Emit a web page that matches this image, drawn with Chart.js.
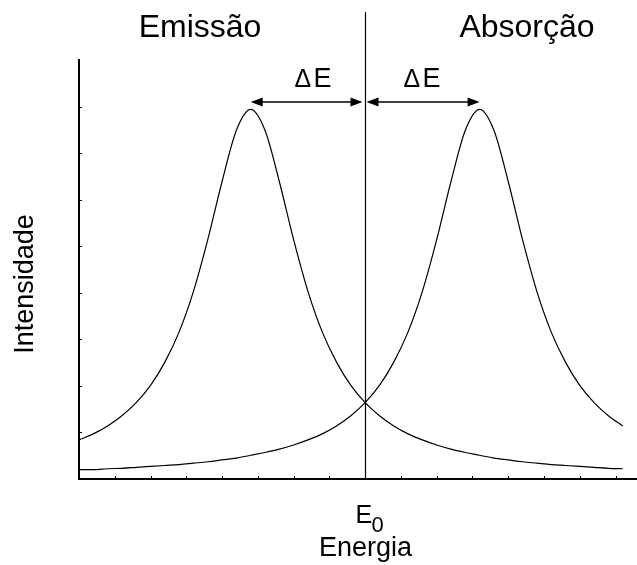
<!DOCTYPE html>
<html>
<head>
<meta charset="utf-8">
<script src="https://cdn.jsdelivr.net/npm/chart.js@4/dist/chart.umd.min.js"></script>
<style>
  html, body { margin: 0; padding: 0; background: #fff; }
  #wrap { width: 637px; height: 565px; }
</style>
</head>
<body>
<div id="wrap"><canvas id="spectrum" width="637" height="565"></canvas></div>
<script>
// energy axis (arbitrary units, E0 sits at 8)
const energy = [0, 0.4, 0.8, 1.2, 1.6, 2.0, 2.4, 2.8, 3.2, 3.6, 4.0, 4.4, 4.8, 5.2, 5.6, 6.0, 6.4, 6.8, 7.2, 7.6,
                8.0, 8.4, 8.8, 9.2, 9.6, 10.0, 10.4, 10.8, 11.2, 11.6, 12.0, 12.4, 12.8, 13.2, 13.6, 14.0, 14.4, 14.8, 15.2];
const emission = [0.84, 0.97, 1.14, 1.36, 1.64, 2.01, 2.51, 3.16, 4.03, 5.14, 6.39, 7.49, 7.94, 7.49, 6.39, 5.14, 4.03, 3.16, 2.51, 2.01,
                  1.64, 1.36, 1.14, 0.97, 0.84, 0.73, 0.64, 0.57, 0.51, 0.45, 0.41, 0.37, 0.34, 0.31, 0.29, 0.27, 0.25, 0.23, 0.22];
const absorption = [0.20, 0.20, 0.22, 0.23, 0.25, 0.27, 0.29, 0.31, 0.34, 0.37, 0.41, 0.45, 0.51, 0.57, 0.64, 0.73, 0.84, 0.97, 1.14, 1.36,
                    1.64, 2.01, 2.51, 3.16, 4.03, 5.14, 6.39, 7.49, 7.94, 7.49, 6.39, 5.14, 4.03, 3.16, 2.51, 2.01, 1.64, 1.36, 1.14];

const centerEnergy = 8;
const emissionPeak = 4.8;
const absorptionPeak = 11.2;
const arrowLevel = 8.1;

const FONT = '"Liberation Sans", Arial, sans-serif';

function toPoints(xs, ys) {
  return xs.map((v, i) => ({ x: v, y: ys[i] }));
}

function arrowHead(ctx, tipX, tipY, dir) {
  ctx.beginPath();
  ctx.moveTo(tipX, tipY);
  ctx.lineTo(tipX - dir * 12, tipY - 4.5);
  ctx.lineTo(tipX - dir * 12, tipY + 4.5);
  ctx.closePath();
  ctx.fill();
}

function doubleArrow(ctx, x1, x2, yy) {
  ctx.beginPath();
  ctx.moveTo(x1 + 6, yy);
  ctx.lineTo(x2 - 6, yy);
  ctx.stroke();
  arrowHead(ctx, x1, yy, -1);
  arrowHead(ctx, x2, yy, 1);
}

function deltaE(ctx, left, baseline) {
  ctx.textAlign = 'left';
  ctx.font = '25px ' + FONT;
  ctx.fillText('\u0394', left, baseline);
  ctx.font = '27px ' + FONT;
  ctx.fillText('E', left + 19, baseline);
}

const annotate = {
  id: 'annotate',
  afterDatasetsDraw(chart) {
    const { ctx, scales: { x, y } } = chart;
    ctx.save();
    ctx.strokeStyle = '#000';
    ctx.fillStyle = '#000';

    // small inward tick marks
    ctx.lineWidth = 1;
    ctx.beginPath();
    for (let v = 1; v <= 15; v++) {
      const px = Math.round(x.getPixelForValue(v)) + 0.5;
      ctx.moveTo(px, y.bottom);
      ctx.lineTo(px, y.bottom - 3);
    }
    for (let v = 1; v <= 8; v++) {
      const py = Math.round(y.getPixelForValue(v)) + 0.5;
      ctx.moveTo(x.left, py);
      ctx.lineTo(x.left + 3, py);
    }
    ctx.stroke();

    // vertical line at E0
    const cx = Math.round(x.getPixelForValue(centerEnergy)) + 0.5;
    ctx.lineWidth = 1.2;
    ctx.beginPath();
    ctx.moveTo(cx, 12);
    ctx.lineTo(cx, y.bottom);
    ctx.stroke();

    // ΔE arrows between each peak and E0
    const ay = y.getPixelForValue(arrowLevel);
    ctx.lineWidth = 1.5;
    doubleArrow(ctx, x.getPixelForValue(emissionPeak), cx - 3, ay);
    doubleArrow(ctx, cx + 1, x.getPixelForValue(absorptionPeak), ay);

    deltaE(ctx, cx - 71, 87);
    deltaE(ctx, cx + 38, 87);

    // region headings
    ctx.textAlign = 'center';
    ctx.font = '32px ' + FONT;
    ctx.fillText('Emissão', 200, 37);
    ctx.fillText('Absorção', 527, 37);

    // x axis caption
    ctx.textAlign = 'left';
    ctx.font = '25px ' + FONT;
    ctx.fillText('E', cx - 10, 523);
    ctx.font = '22px ' + FONT;
    ctx.fillText('0', cx + 6, 532);
    ctx.textAlign = 'center';
    ctx.font = '27px ' + FONT;
    ctx.fillText('Energia', cx, 556);

    // y axis caption
    ctx.translate(33, 284);
    ctx.rotate(-Math.PI / 2);
    ctx.fillText('Intensidade', 0, 0);

    ctx.restore();
  }
};

const lineStyle = {
  borderColor: '#000',
  borderWidth: 1.2,
  pointRadius: 0,
  showLine: true,
  fill: false,
  cubicInterpolationMode: 'monotone'
};

new Chart(document.getElementById('spectrum'), {
  type: 'scatter',
  data: {
    datasets: [
      { label: 'Emissão', data: toPoints(energy, emission), ...lineStyle },
      { label: 'Absorção', data: toPoints(energy, absorption), ...lineStyle }
    ]
  },
  options: {
    responsive: false,
    animation: false,
    layout: { padding: { left: 79, top: 60, right: 0, bottom: 86 } },
    plugins: {
      legend: { display: false },
      tooltip: { enabled: false }
    },
    scales: {
      x: {
        type: 'linear',
        min: 0,
        max: 15.6,
        grid: { display: false },
        ticks: { display: false },
        border: { display: true, color: '#000', width: 2 },
        afterFit(scale) { scale.height = 0; }
      },
      y: {
        min: 0,
        max: 9,
        grid: { display: false },
        ticks: { display: false },
        border: { display: true, color: '#000', width: 2 },
        afterFit(scale) { scale.width = 0; }
      }
    }
  },
  plugins: [annotate]
});
</script>
</body>
</html>
